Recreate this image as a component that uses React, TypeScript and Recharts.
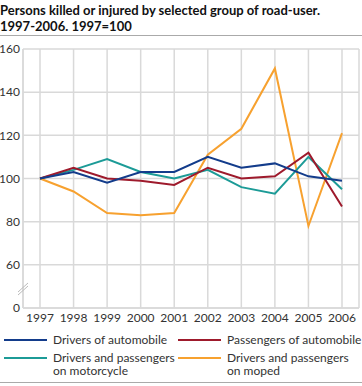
import { LineChart, Line, XAxis, YAxis, CartesianGrid } from 'recharts';

const years = ['1997', '1998', '1999', '2000', '2001', '2002', '2003', '2004', '2005', '2006'];
const driversAuto = [100, 103, 98, 103, 103, 110, 105, 107, 101, 99];
const passengersAuto = [100, 105, 100, 99, 97, 105, 100, 101, 112, 87];
const motorcycle = [100, 104, 109, 103, 100, 104, 96, 93, 110, 95];
const moped = [100, 94, 84, 83, 84, 111, 123, 151, 78, 121];
const yTicks = [0, 60, 80, 100, 120, 140, 160];

const series = [
  { key: 'driversAuto', name: 'Drivers of automobile', color: '#133c8b', values: driversAuto },
  { key: 'passengersAuto', name: 'Passengers of automobile', color: '#9e1a2c', values: passengersAuto },
  { key: 'motorcycle', name: 'Drivers and passengers on motorcycle', color: '#1c9b97', values: motorcycle },
  { key: 'moped', name: 'Drivers and passengers on moped', color: '#f7a12f', values: moped },
];

// broken axis: 0 sits one step below 60
const toAxis = (v: number) => (v <= 0 ? 0 : v - 40);
const fromAxis = (v: number) => (v <= 0 ? 0 : v + 40);

const data = years.map((year, i) => {
  const row: Record<string, string | number> = { year };
  series.forEach((s) => {
    row[s.key] = toAxis(s.values[i]);
  });
  return row;
});

const font = 'Lato, sans-serif';
const textColor = '#333';

function LegendItem({ color, label, x, y, w }: { color: string; label: string; x: number; y: number; w: number }) {
  return (
    <div style={{ position: 'absolute', left: x, top: y, display: 'flex', alignItems: 'flex-start' }}>
      <div style={{ width: 43, height: 2, background: color, marginTop: 6, marginRight: 6 }} />
      <div style={{ fontSize: 12, lineHeight: '13px', color: textColor, width: w }}>{label}</div>
    </div>
  );
}

export default function App() {
  const drawOrder = [...series].reverse();
  return (
    <div style={{ position: 'absolute', left: 0, top: 0, width: 362, height: 386, background: '#fff', fontFamily: font }}>
      <div style={{ position: 'absolute', left: 0, top: 2, fontSize: 13, fontWeight: 700, lineHeight: '16px', color: '#111', whiteSpace: 'nowrap' }}>
        Persons killed or injured by selected group of road-user.
        <br />
        1997-2006. 1997=100
      </div>
      <div style={{ position: 'absolute', left: 0, top: 35, width: 362, height: 1, background: '#aaa' }} />

      <div style={{ position: 'absolute', left: 0, top: 40 }}>
        <LineChart width={362} height={290} data={data} margin={{ top: 9, right: 3, bottom: 0, left: 0 }}>
          <CartesianGrid stroke="#d9d9d9" strokeWidth={1.5} />
          <XAxis
            dataKey="year"
            padding={{ left: 17, right: 17 }}
            tickLine={false}
            tickSize={0}
            axisLine={{ stroke: '#d9d9d9', strokeWidth: 1.5 }}
            tick={{ fontSize: 12, fill: textColor, fontFamily: font }}
            height={22}
            tickMargin={5}
            interval={0}
          />
          <YAxis
            type="number"
            domain={[0, 120]}
            ticks={yTicks.map(toAxis)}
            tickFormatter={(t: number) => String(fromAxis(t))}
            width={23}
            tickLine={false}
            tickSize={0}
            axisLine={{ stroke: '#d9d9d9', strokeWidth: 1.5 }}
            tick={{ fontSize: 12, fill: textColor, fontFamily: font }}
            tickMargin={3}
          />
          {drawOrder.map((s) => (
            <Line
              key={s.key}
              dataKey={s.key}
              name={s.name}
              stroke={s.color}
              strokeWidth={2}
              dot={false}
              isAnimationActive={false}
            />
          ))}
        </LineChart>
      </div>

      <svg style={{ position: 'absolute', left: 0, top: 0 }} width={362} height={386}>
        <line x1={18} y1={292} x2={28} y2={283} stroke="#bbb" strokeWidth={1} />
        <line x1={18} y1={295} x2={28} y2={286} stroke="#bbb" strokeWidth={1} />
      </svg>

      <LegendItem color={series[0].color} label={series[0].name} x={4} y={333} w={125} />
      <LegendItem color={series[1].color} label={series[1].name} x={178} y={333} w={180} />
      <LegendItem color={series[2].color} label={series[2].name} x={4} y={351} w={125} />
      <LegendItem color={series[3].color} label={series[3].name} x={178} y={351} w={125} />

      <div style={{ position: 'absolute', left: 0, top: 382, width: 362, height: 1, background: '#aaa' }} />
    </div>
  );
}
